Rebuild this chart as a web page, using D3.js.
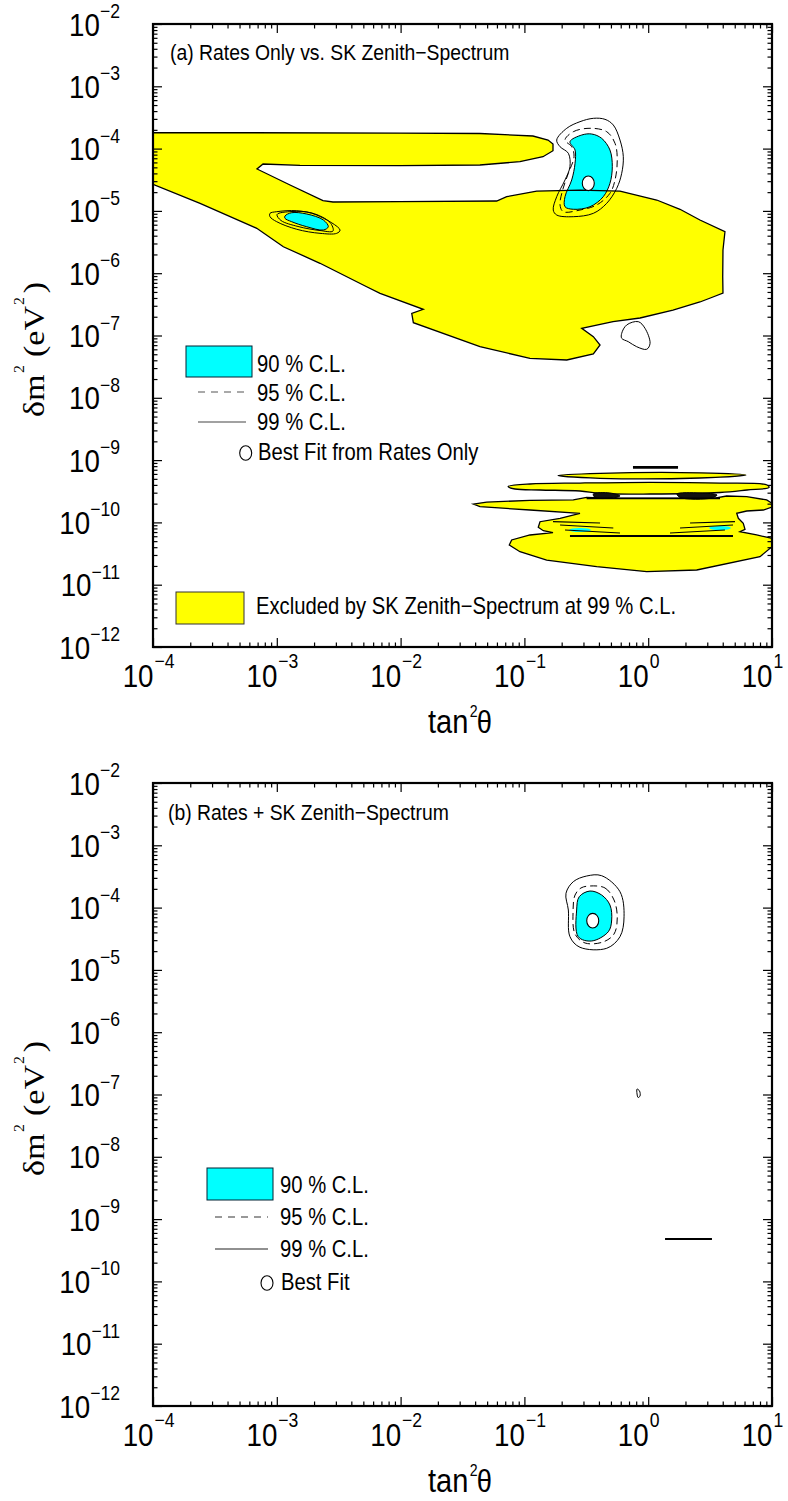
<!DOCTYPE html>
<html><head><meta charset="utf-8">
<script src="https://cdnjs.cloudflare.com/ajax/libs/d3/7.8.5/d3.min.js"></script>
<style>body{margin:0;background:#fff}svg{display:block}text{font-family:"Liberation Sans",Arial,sans-serif;fill:#000}</style>
</head><body>
<svg id="c" width="788" height="1501"></svg>
<script>
// ---------- DATA (all pairs are [log10(tan^2 theta), log10(dm^2 / eV^2)]) ----------
const xDecades = [-4, -3, -2, -1, 0, 1];
const yDecades = [-2, -3, -4, -5, -6, -7, -8, -9, -10, -11, -12];
const minorMultipliers = [2, 3, 4, 5, 6, 7, 8, 9];

const panelTitles = ["(a) Rates Only vs. SK Zenith\u2212Spectrum", "(b) Rates + SK Zenith\u2212Spectrum"];
const legendLabelsA = ["90 % C.L.", "95 % C.L.", "99 % C.L.", "Best Fit from Rates Only"];
const legendLabelsB = ["90 % C.L.", "95 % C.L.", "99 % C.L.", "Best Fit"];
const excludedLabel = "Excluded by SK Zenith\u2212Spectrum at 99 % C.L.";

// Panel (a): region excluded by SK zenith-spectrum (yellow)
const excludedMainA = [
[-4.000,-3.742],[-2.005,-3.750],[-1.359,-3.758],[-0.931,-3.798],[-0.809,-3.862],[-0.769,-3.926],[-0.769,-4.034],[-0.850,-4.130],[-1.036,-4.210],[-1.359,-4.263],[-2.005,-4.274],[-2.813,-4.268],[-3.111,-4.247],[-3.160,-4.327],[-2.893,-4.584],[-2.627,-4.836],[-2.546,-4.857],[-2.005,-4.852],[-1.224,-4.841],[-1.143,-4.772],[-0.901,-4.681],[-0.551,-4.665],[-0.228,-4.681],[0.069,-4.825],[0.257,-4.974],[0.418,-5.146],[0.620,-5.334],[0.604,-5.628],[0.602,-6.056],[0.604,-6.318],[0.523,-6.382],[0.418,-6.462],[0.200,-6.591],[-0.066,-6.719],[-0.284,-6.778],[-0.537,-6.884],[-0.443,-7.019],[-0.389,-7.152],[-0.443,-7.297],[-0.658,-7.393],[-0.955,-7.366],[-1.359,-7.180],[-1.897,-6.795],[-1.910,-6.644],[-1.817,-6.579],[-2.166,-6.323],[-2.274,-6.217],[-2.651,-5.841],[-2.947,-5.575],[-3.162,-5.279],[-3.620,-4.878],[-4.000,-4.573]
];
const excludedThinA = [[-0.729,-9.247],[-0.389,-9.212],[0.418,-9.204],[0.790,-9.239],[0.418,-9.287],[-0.389,-9.292]];
const excludedBandA = [[-1.132,-9.424],[-0.955,-9.384],[-0.551,-9.368],[0.015,-9.356],[0.580,-9.368],[0.960,-9.400],[0.976,-9.440],[0.798,-9.480],[0.580,-9.520],[0.015,-9.544],[-0.389,-9.536],[-0.551,-9.496],[-0.874,-9.480],[-1.076,-9.464]];
const excludedLowA = [
[-1.413,-9.705],[-1.305,-9.673],[-0.955,-9.648],[-0.605,-9.640],[-0.497,-9.597],[-0.282,-9.613],[0.526,-9.613],[0.634,-9.576],[0.796,-9.587],[0.957,-9.640],[1.000,-9.693],[1.000,-9.753],[0.930,-9.801],[0.796,-9.817],[0.715,-9.854],[0.728,-9.934],[0.768,-10.014],[0.782,-10.111],[0.741,-10.149],[0.876,-10.202],[1.000,-10.255],[1.000,-10.390],[0.903,-10.550],[0.392,-10.764],[-0.012,-10.791],[-0.416,-10.711],[-0.820,-10.604],[-1.036,-10.470],[-1.122,-10.363],[-1.103,-10.282],[-0.955,-10.202],[-0.769,-10.165],[-0.847,-10.133],[-0.888,-10.079],[-0.874,-9.989],[-0.712,-9.934],[-0.551,-9.854],[-0.955,-9.801],[-1.359,-9.748]
];
const excludedLineA = [[-0.123,-9.116],[0.241,-9.116]];

// Panel (a): rates-only allowed regions
const cl90LmaA = [[-0.632,-3.889],[-0.537,-3.782],[-0.456,-3.766],[-0.376,-3.835],[-0.309,-4.022],[-0.290,-4.291],[-0.309,-4.557],[-0.363,-4.772],[-0.470,-4.933],[-0.605,-4.974],[-0.672,-4.933],[-0.672,-4.772],[-0.618,-4.504],[-0.591,-4.236],[-0.591,-4.022]];
const cl95LmaA = [[-0.672,-3.862],[-0.605,-3.729],[-0.470,-3.674],[-0.335,-3.729],[-0.268,-3.915],[-0.250,-4.183],[-0.268,-4.504],[-0.309,-4.718],[-0.416,-4.905],[-0.551,-4.986],[-0.686,-5.013],[-0.712,-4.905],[-0.691,-4.665],[-0.645,-4.396],[-0.599,-4.130],[-0.618,-3.970]];
const cl99LmaA = [[-0.739,-3.862],[-0.658,-3.674],[-0.551,-3.568],[-0.443,-3.514],[-0.349,-3.530],[-0.282,-3.621],[-0.228,-3.862],[-0.201,-4.130],[-0.214,-4.396],[-0.254,-4.637],[-0.335,-4.878],[-0.443,-5.039],[-0.605,-5.093],[-0.739,-5.066],[-0.767,-4.986],[-0.739,-4.772],[-0.672,-4.504],[-0.632,-4.291],[-0.645,-4.075],[-0.712,-3.970]];
const cl99IslandA = [[-0.214,-6.965],[-0.174,-6.831],[-0.080,-6.778],[-0.026,-6.884],[0.015,-7.125],[-0.012,-7.221],[-0.093,-7.180],[-0.161,-7.099],[-0.214,-7.045]];
const cl90SmaA = [[-2.934,-5.082],[-2.880,-5.029],[-2.758,-5.050],[-2.624,-5.146],[-2.584,-5.254],[-2.624,-5.307],[-2.758,-5.254],[-2.880,-5.173],[-2.934,-5.119]];
const cl95SmaA = [[-2.998,-5.058],[-2.877,-5.010],[-2.716,-5.034],[-2.570,-5.186],[-2.546,-5.323],[-2.651,-5.315],[-2.829,-5.250],[-2.966,-5.154]];
const cl99SmaA = [[-3.055,-5.039],[-3.001,-5.013],[-2.839,-4.997],[-2.678,-5.066],[-2.489,-5.307],[-2.516,-5.360],[-2.651,-5.360],[-2.839,-5.295],[-3.001,-5.173],[-3.055,-5.093]];
const lowBlobsA = [
  [[-0.443,-9.544],[-0.309,-9.528],[-0.228,-9.576],[-0.292,-9.608],[-0.430,-9.600]],
  [[0.233,-9.544],[0.418,-9.528],[0.556,-9.560],[0.515,-9.608],[0.257,-9.600]]
];
const lowLinesA = [
  [[-0.497,-9.613],[0.580,-9.613]],
  [[-0.632,-10.218],[0.685,-10.218]],
  [[-0.769,-9.989],[-0.389,-10.010]],
  [[-0.712,-10.042],[-0.282,-10.090]],
  [[-0.672,-10.122],[-0.228,-10.170]],
  [[0.338,-10.010],[0.701,-9.989]],
  [[0.257,-10.090],[0.685,-10.042]],
  [[0.176,-10.170],[0.620,-10.122]]
];
const lowCyanSpotsA = [[-0.551,-10.122],[0.580,-10.090]];
const bestFitA = [-0.484, -4.557];

// Panel (b): rates + SK zenith-spectrum
const cl90LmaB = [[-0.470,-3.734],[-0.376,-3.798],[-0.309,-3.958],[-0.295,-4.199],[-0.322,-4.387],[-0.456,-4.536],[-0.565,-4.467],[-0.578,-4.039],[-0.557,-3.825]];
const cl95LmaB = [[-0.470,-3.653],[-0.349,-3.685],[-0.276,-3.878],[-0.250,-4.167],[-0.276,-4.424],[-0.365,-4.552],[-0.510,-4.568],[-0.591,-4.424],[-0.607,-4.071],[-0.591,-3.798],[-0.543,-3.685]];
const cl99LmaB = [[-0.376,-3.488],[-0.228,-3.745],[-0.195,-4.146],[-0.228,-4.467],[-0.335,-4.653],[-0.551,-4.637],[-0.632,-4.467],[-0.645,-4.039],[-0.664,-3.770],[-0.605,-3.584],[-0.497,-3.493]];
const cl99SpeckB = [[-0.090,-6.912],[-0.070,-6.944],[-0.066,-7.024],[-0.082,-7.048],[-0.090,-6.992]];
const cl99LineB = [[0.136,-9.320],[0.515,-9.320]];
const bestFitB = [-0.448, -4.210];

// ---------- DRAWING ----------
const svg = d3.select("#c");
const YELLOW = "#ffff00", CYAN = "#00ffff";
const x = d3.scaleLog().domain([1e-4, 10]).range([153, 772]);
const panels = [
  { top: 24, bottom: 647, title: panelTitles[0] },
  { top: 783, bottom: 1406, title: panelTitles[1] }
];
panels.forEach(p => { p.y = d3.scaleLog().domain([1e-2, 1e-12]).range([p.top, p.bottom]); });

function pts(arr, y) { return arr.map(([lx, ly]) => [x(Math.pow(10, lx)), y(Math.pow(10, ly))]); }
const smooth = d3.line().curve(d3.curveCatmullRomClosed.alpha(0.5));
const straight = d3.line().curve(d3.curveLinearClosed);
const open = d3.line();

function stext(g, tx, ty, str, size, anchor) {
  return g.append("text").attr("transform", `translate(${tx},${ty}) scale(0.88,1)`)
    .attr("font-size", size).attr("text-anchor", anchor || "start").text(str);
}

function drawAxes(g, p) {
  const y = p.y;
  const xMinor = [], yMinor = [];
  xDecades.slice(0, -1).forEach(d => minorMultipliers.forEach(m => xMinor.push(m * Math.pow(10, d))));
  yDecades.slice(1).forEach(d => minorMultipliers.forEach(m => yMinor.push(m * Math.pow(10, d))));
  const xMajor = xDecades.map(d => Math.pow(10, d));
  const yMajor = yDecades.map(d => Math.pow(10, d));
  const defs = [
    [d3.axisBottom(x), `translate(0,${p.bottom})`, xMajor, xMinor],
    [d3.axisTop(x), `translate(0,${p.top})`, xMajor, xMinor],
    [d3.axisLeft(y), `translate(153,0)`, yMajor, yMinor],
    [d3.axisRight(y), `translate(772,0)`, yMajor, yMinor]
  ];
  defs.forEach(([ax, tr, maj, min]) => {
    [[maj, 9], [min, 4.5]].forEach(([vals, len]) => {
      g.append("g").attr("transform", tr)
        .call(ax.tickValues(vals).tickSize(-len).tickFormat(""))
        .call(s => { s.select(".domain").remove(); s.selectAll("text").remove(); })
        .selectAll("line").attr("stroke", "#000").attr("stroke-width", 1.2);
    });
  });
  // y tick labels
  yDecades.forEach(d => {
    const ty = y(Math.pow(10, d));
    const t = g.append("text").attr("transform", `translate(120,${ty + 11.5}) scale(0.88,1)`)
      .attr("text-anchor", "end").attr("font-size", 31.5);
    t.append("tspan").text("10");
    t.append("tspan").attr("font-size", 20).attr("dy", -17.5).text("\u2212" + Math.abs(d));
  });
  // x tick labels
  xDecades.forEach(d => {
    const tx = x(Math.pow(10, d));
    stext(g, tx + 0.5, p.bottom + 40, "10", 31.5, "end");
    stext(g, tx + 1.5, p.bottom + 21, (d < 0 ? "\u2212" : "") + Math.abs(d), 20, "start");
  });
  // x title
  const xt = g.append("g").attr("transform", `translate(428,${p.bottom + 86}) scale(0.88,1)`);
  xt.append("text").attr("font-size", 33).text("tan");
  xt.append("text").attr("font-size", 16).attr("x", 47.5).attr("y", -16).text("2");
  xt.append("text").attr("font-size", 31).attr("x", 55.5).text("\u03b8");
  // y title (serif, rotated)
  const mid = p.top + 393;
  const yt = g.append("g").attr("transform", `translate(43.5,${mid}) rotate(-90) scale(1.136,1)`)
    .style("font-family", '"Liberation Serif","Times New Roman",serif');
  yt.append("text").attr("font-size", 30).style("font-family", 'inherit').text("\u03b4m");
  yt.append("text").attr("font-size", 14).attr("x", 38.7).attr("y", -20).style("font-family", 'inherit').text("2");
  yt.append("text").attr("font-size", 30).attr("x", 52.8).style("font-family", 'inherit').text("(eV");
  yt.append("text").attr("font-size", 14).attr("x", 98.6).attr("y", -20).style("font-family", 'inherit').text("2");
  yt.append("text").attr("font-size", 30).attr("x", 109).style("font-family", 'inherit').text(")");
  // frame
  g.append("rect").attr("x", 153).attr("y", p.top).attr("width", 772 - 153).attr("height", p.bottom - p.top)
    .attr("fill", "none").attr("stroke", "#000").attr("stroke-width", 2.2);
}

function ring(g, arr, y, opt) {
  return g.append("path").attr("d", smooth(pts(arr, y)))
    .attr("fill", opt.fill || "none").attr("stroke", opt.stroke || "none")
    .attr("stroke-width", opt.sw || 1.1).attr("stroke-dasharray", opt.dash || null);
}
function bestFit(g, bf, y) {
  g.append("ellipse").attr("cx", x(Math.pow(10, bf[0]))).attr("cy", y(Math.pow(10, bf[1])))
    .attr("rx", 6).attr("ry", 7.3).attr("fill", "#fff").attr("stroke", "#000").attr("stroke-width", 1.1);
}

// ---- Panel (a)
(function () {
  const p = panels[0], y = p.y;
  const g = svg.append("g");
  const plot = g.append("g");
  // yellow fills
  plot.append("path").attr("d", straight(pts(excludedMainA, y))).attr("fill", YELLOW);
  [excludedThinA, excludedBandA].forEach(a => ring(plot, a, y, { fill: YELLOW }));
  plot.append("path").attr("d", straight(pts(excludedLowA, y))).attr("fill", YELLOW);
  // cyan 90% regions
  ring(plot, cl90LmaA, y, { fill: CYAN });
  ring(plot, cl90SmaA, y, { fill: CYAN });
  lowCyanSpotsA.forEach(c => plot.append("ellipse").attr("cx", x(Math.pow(10, c[0]))).attr("cy", y(Math.pow(10, c[1])))
    .attr("rx", 11).attr("ry", 2).attr("fill", CYAN));
  // yellow outlines
  plot.append("path").attr("d", straight(pts(excludedMainA, y))).attr("fill", "none").attr("stroke", "#000").attr("stroke-width", 1.3);
  [excludedThinA, excludedBandA].forEach(a => ring(plot, a, y, { stroke: "#000", sw: 1.3 }));
  plot.append("path").attr("d", straight(pts(excludedLowA, y))).attr("fill", "none").attr("stroke", "#000").attr("stroke-width", 1.3);
  plot.append("path").attr("d", open(pts(excludedLineA, y))).attr("stroke", "#000").attr("stroke-width", 2.6);
  // contour lines
  ring(plot, cl90LmaA, y, { stroke: "#000", sw: 1 });
  ring(plot, cl95LmaA, y, { stroke: "#000", sw: 1, dash: "7,4" });
  ring(plot, cl99LmaA, y, { stroke: "#000", sw: 1 });
  ring(plot, cl99IslandA, y, { stroke: "#000", sw: 1 });
  ring(plot, cl90SmaA, y, { stroke: "#000", sw: 1 });
  ring(plot, cl95SmaA, y, { stroke: "#000", sw: 1 });
  ring(plot, cl99SmaA, y, { stroke: "#000", sw: 1 });
  lowBlobsA.forEach(a => ring(plot, a, y, { fill: "#111", stroke: "#000", sw: 1 }));
  lowLinesA.forEach((a, i) => plot.append("path").attr("d", open(pts(a, y))).attr("fill", "none")
    .attr("stroke", "#000").attr("stroke-width", i < 2 ? 1.8 : 1.2));
  bestFit(plot, bestFitA, y);

  // title + legends
  stext(g, 170, 60, p.title, 22);
  g.append("rect").attr("x", 186).attr("y", 346).attr("width", 66).attr("height", 31).attr("fill", CYAN).attr("stroke", "#023").attr("stroke-width", 1);
  stext(g, 257, 372, legendLabelsA[0], 23);
  g.append("line").attr("x1", 198).attr("x2", 247).attr("y1", 392).attr("y2", 392).attr("stroke", "#555").attr("stroke-width", 1.2).attr("stroke-dasharray", "7,6");
  stext(g, 257, 401, legendLabelsA[1], 23);
  g.append("line").attr("x1", 198).attr("x2", 246).attr("y1", 422).attr("y2", 422).attr("stroke", "#444").attr("stroke-width", 1.2);
  stext(g, 257, 430, legendLabelsA[2], 23);
  g.append("ellipse").attr("cx", 245.7).attr("cy", 453).attr("rx", 6).attr("ry", 7.3).attr("fill", "#fff").attr("stroke", "#000").attr("stroke-width", 1.1);
  stext(g, 258, 460, legendLabelsA[3], 23);
  g.append("rect").attr("x", 176).attr("y", 592).attr("width", 68).attr("height", 32).attr("fill", YELLOW).attr("stroke", "#333").attr("stroke-width", 1);
  stext(g, 256, 614, excludedLabel, 23);
  drawAxes(g, p);
})();

// ---- Panel (b)
(function () {
  const p = panels[1], y = p.y;
  const g = svg.append("g");
  const plot = g.append("g");
  ring(plot, cl90LmaB, y, { fill: CYAN, stroke: "#000", sw: 1 });
  ring(plot, cl95LmaB, y, { stroke: "#000", sw: 1, dash: "7,4" });
  ring(plot, cl99LmaB, y, { stroke: "#000", sw: 1 });
  ring(plot, cl99SpeckB, y, { stroke: "#000", sw: 1 });
  plot.append("path").attr("d", open(pts(cl99LineB, y))).attr("stroke", "#000").attr("stroke-width", 2);
  bestFit(plot, bestFitB, y);

  stext(g, 168, 820, p.title, 22);
  g.append("rect").attr("x", 207).attr("y", 1168).attr("width", 66).attr("height", 32).attr("fill", CYAN).attr("stroke", "#023").attr("stroke-width", 1);
  stext(g, 280, 1193, legendLabelsB[0], 23);
  g.append("line").attr("x1", 215).attr("x2", 268).attr("y1", 1217).attr("y2", 1217).attr("stroke", "#333").attr("stroke-width", 1.2).attr("stroke-dasharray", "7,6");
  stext(g, 280, 1225, legendLabelsB[1], 23);
  g.append("line").attr("x1", 215).attr("x2", 268).attr("y1", 1249).attr("y2", 1249).attr("stroke", "#222").attr("stroke-width", 1.2);
  stext(g, 280, 1257, legendLabelsB[2], 23);
  g.append("ellipse").attr("cx", 267).attr("cy", 1283).attr("rx", 6).attr("ry", 7.3).attr("fill", "#fff").attr("stroke", "#000").attr("stroke-width", 1.1);
  stext(g, 281, 1290, legendLabelsB[3], 23);
  drawAxes(g, p);
})();
</script>
</body></html>
